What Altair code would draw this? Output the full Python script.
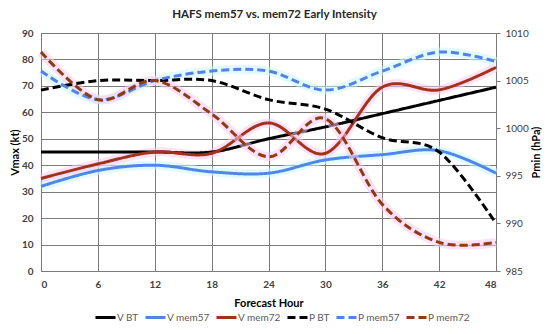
import altair as alt
import pandas as pd

hours = [0, 6, 12, 18, 24, 30, 36, 42, 48]
v_bt = [45, 45, 45, 45, 50, 54.5, 59.5, 64.5, 69.5]
v_mem57 = [32, 38, 40, 37.5, 37, 42, 44, 45.5, 37]
v_mem72 = [35, 40.5, 45, 44.5, 56, 44.5, 69.5, 68.5, 77]
p_bt = [1004, 1005, 1005, 1005, 1003, 1002, 999, 997.5, 990]
p_mem57 = [1006, 1003, 1005, 1006, 1006, 1004, 1006, 1008, 1007]
p_mem72 = [1008, 1003, 1005, 1001.5, 997, 1001, 992, 988, 988]

series_names = ["V BT", "V mem57", "V mem72", "P BT", "P mem57", "P mem72"]
series_colors = ["#000000", "#4f86e8", "#a3321a", "#000000", "#5580e6", "#8f3a12"]
series_dash = [[1, 0], [1, 0], [1, 0], [8, 4], [8, 4], [8, 4]]

x_ticks = hours
v_ticks = [0, 10, 20, 30, 40, 50, 60, 70, 80, 90]
p_ticks = [985, 990, 995, 1000, 1005, 1010]

rows = []
for name, vals in zip(series_names, [v_bt, v_mem57, v_mem72, p_bt, p_mem57, p_mem72]):
    for h, v in zip(hours, vals):
        rows.append({"hour": h, "value": v, "series": name})
df = pd.DataFrame(rows)
df_v = df[df.series.str.startswith("V")]
df_p = df[df.series.str.startswith("P")]

FONT = "Lato"

x_enc = alt.X("hour:Q", scale=alt.Scale(domain=[0, 48], nice=False),
              axis=alt.Axis(values=x_ticks, title="Forecast Hour", grid=True, ticks=False,
                            domain=False, labelPadding=8, titlePadding=8))

legend = alt.Legend(orient="none", legendX=53, legendY=273, direction="horizontal", columns=6,
                    gridAlign="none",
                    title=None, symbolType="stroke", symbolSize=400, symbolStrokeWidth=3,
                    labelFontSize=10, labelColor="#595959", labelOffset=0, columnPadding=0,
                    labelFont=FONT)
color_enc = alt.Color("series:N", scale=alt.Scale(domain=series_names, range=series_colors),
                      legend=legend)
dash_enc = alt.StrokeDash("series:N", scale=alt.Scale(domain=series_names, range=series_dash),
                          legend=legend)

yv = alt.Y("value:Q", scale=alt.Scale(domain=[0, 90], nice=False),
           axis=alt.Axis(values=v_ticks, title="Vmax (kt)", grid=True, ticks=False, domain=False,
                         labelPadding=8, titleX=-21, titleBaseline="bottom", titleAngle=270))
yp = alt.Y("value:Q", scale=alt.Scale(domain=[985, 1010], nice=False),
           axis=alt.Axis(values=p_ticks, format="d", title="Pmin (hPa)", orient="right", grid=False,
                         ticks=True, tickSize=4, domain=False, labelPadding=5,
                         titleX=45, titleBaseline="bottom", titleAngle=270,
                         titleFontWeight="bold", titleColor="#000000",
                         labelFontWeight="normal"))

def glow(data, y, name, col):
    return alt.Chart(data[data.series == name]).mark_line(
        interpolate="cardinal", strokeWidth=9, opacity=0.55, strokeCap="butt"
    ).encode(x=x_enc, y=y, color=alt.value(col), detail="series:N")

v_lines = alt.Chart(df_v).mark_line(interpolate="cardinal", strokeWidth=3).encode(
    x=x_enc, y=yv, color=color_enc, strokeDash=dash_enc)
p_lines = alt.Chart(df_p).mark_line(interpolate="cardinal", strokeWidth=3).encode(
    x=x_enc, y=yp, color=color_enc, strokeDash=dash_enc)

v_group = alt.layer(glow(df_v, yv, "V mem57", "#c8f7fb"), glow(df_v, yv, "V mem72", "#fcc8ee"), v_lines)
p_group = alt.layer(glow(df_p, yp, "P mem57", "#c8f7fb"), glow(df_p, yp, "P mem72", "#fcc8ee"), p_lines)

chart = alt.layer(v_group, p_group).resolve_scale(y="independent").properties(
    width=455, height=238,
    title=alt.TitleParams("HAFS mem57 vs. mem72 Early Intensity", fontSize=11.5, fontWeight="bold",
                          color="#262626", font=FONT, offset=8, dx=6),
    autosize=alt.AutoSizeParams(type="none"),
    padding={"left": 33, "top": 25, "right": 46, "bottom": 55},
).configure(font=FONT).configure_axis(
    gridColor="#7a7a7a", gridWidth=1, gridOpacity=1,
    labelFont=FONT, labelFontSize=10, labelFontWeight="bold", labelColor="#404040",
    titleFont=FONT, titleFontSize=11, titleFontWeight="bold", titleColor="#000000",
    tickColor="#7a7a7a",
).configure_view(stroke="#7a7a7a", strokeWidth=1)

chart.save("out.html", embed_options={"renderer": "svg", "actions": False})
